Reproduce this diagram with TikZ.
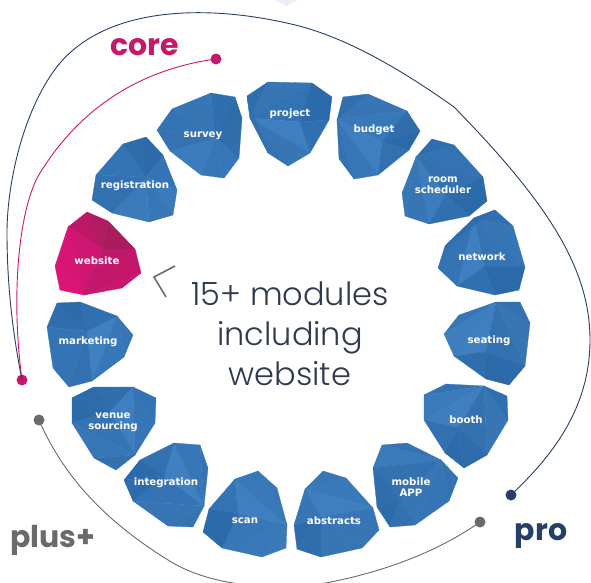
\documentclass[tikz,border=0pt]{standalone}
\usepackage{fontspec}
\setmainfont{Poppins}
\newfontfamily\labelfont{DejaVu Sans}
\newfontfamily\lightfont{Poppins Light}
\usetikzlibrary{calc}
\definecolor{gemdark}{HTML}{2A68A8}
\definecolor{gemlight}{HTML}{4383C3}
\definecolor{pinkdark}{HTML}{A81C5C}
\definecolor{pinklight}{HTML}{E5127E}
\definecolor{corecol}{HTML}{C9186C}
\definecolor{procol}{HTML}{263F66}
\definecolor{pluscol}{HTML}{6A6A6A}
\definecolor{textcol}{HTML}{2E3A4E}
\tikzset{%
  gemlabel/.style = {text=white, font=\labelfont\bfseries\fontsize{10.2}{11.5}\selectfont, align=center, inner sep=0pt, yshift=-1.2pt},%
  tier/.style     = {font=\fontsize{30}{32}\selectfont\bfseries, inner sep=0pt, yshift=-1.5pt},%
  headline/.style = {text=textcol, font=\lightfont\fontsize{32}{40}\selectfont, align=center, inner sep=0pt},%
  dot/.style      = {circle, inner sep=0pt, minimum size=11pt},%
  loopline/.style = {line width=0.9pt}%
}
% one fan of facets round a hub: hub, start point, then x/y/shade
\def\gemsplit#1,#2\relax{\def\gemstartx{#1}\def\gemstarty{#2}}
\newcommand{\gemfan}[4][gem]{%
  \gemsplit#3\relax
  \foreach \x/\y/\s [remember=\x as \xo (initially \gemstartx), remember=\y as \yo (initially \gemstarty)] in {#4}
    \path[fill=#1light!\s!#1dark, draw=#1light!\s!#1dark, line width=0.3pt, line join=round]
      (#2) -- (\xo,\yo) -- (\x,\y) -- cycle;%
}
\begin{document}
\begin{tikzpicture}[x=1pt,y=-1pt]
  \useasboundingbox (0,0) rectangle (591,582);
  \clip (0,0) rectangle (591,582);
  \fill[gemlight!12] (275,0) -- (298,0) -- (287,6) -- cycle;
  % survey
  \gemfan{215,138}{157,130}{172/109/45,211/93/50,235/97/25,242/118/12,239/158/22,224/178/55,201/175/55,170/151/75,157/130/38}
  % registration
  \gemfan{146,177}{92,200}{96/175/35,123/144/45,146/137/15,163/155/8,177/190/45,173/215/70,149/222/55,112/213/72,92/200/30}
  % project
  \gemfan{250,118}{247,96}{268/82/25,312/83/50,300/122/40,310/153/85,288/166/50,268/153/40}
  \gemfan{300,122}{312,83}{332/97/10,329/120/5,310/153/28}
  \gemfan{250,118}{268,153}{247/96/30}
  % budget
  \gemfan{337,120}{343,97}{368/94/25,407/111/50,382/142/60,378/175/85,354/179/55,339/159/40}
  \gemfan{382,142}{407,111}{420/131/18,409/150/3,378/175/30}
  % room scheduler
  \gemfan{416,157}{432,139}{454/145/20,483/177/40,446/195/35,429/224/75,405/216/50,402/193/55}
  \gemfan{446,195}{483,177}{487/201/10,469/216/2,429/224/28}
  % network
  \gemfan{474,218}{495,210}{513/226/28,525/267/50,484/267/45,457/286/85,438/268/45,445/246/35,495/210/15}
  \gemfan{484,267}{525,267}{519/290/10,495/295/2,457/286/28}
  % seating
  \gemfan{496,302}{459,315}{444/334/50,454/356/80,486/352/85,525/366/35,530/323/50,520/302/35}
  \gemfan{486,352}{454,356}{486/379/20,509/385/5,525/366/10}
  % booth
  \gemfan{484,386}{446,384}{424/395/40,424/420/70,458/428/85,487/455/35,508/420/50,507/396/25}
  \gemfan{458,428}{424,420}{445/453/30,464/468/10,487/455/12}
  % mobile APP
  \gemfan{441,460}{407,443}{382/445/45,373/468/72,400/500/35,415/525/50,449/501/48,458/478/38}
  \gemfan{400,500}{373,468}{377/507/20,390/527/8,415/525/30}
  % abstracts
  \gemfan{305,489}{323,471}{346/478/55,373/508/62,321/517/85}
  \gemfan{321,517}{373,508}{379/530/50,362/548/50,321/557/50,297/549/20,294/525/15,305/489/50}
  % scan
  \gemfan{287,525}{222,548}{238/513/55,235/479/85,258/471/60,277/488/55}
  \gemfan{287,525}{286,548}{262/557/65,222/548/60}
  \gemfan{238,513}{209,509}{235/479/45}
  \gemfan{238,513}{203,532}{209/509/10}
  \gemfan{238,513}{222,548}{203/532/10}
  % integration
  \gemfan{204,506}{133,501}{164/476/45,174/443/88,200/445/55,208/468/45}
  \gemfan{204,506}{193,527}{168/526/45,133/501/50}
  \gemfan{164,476}{124,480}{140/460/10,174/443/30}
  \gemfan{164,476}{133,501}{124/480/12}
  % venue sourcing
  \gemfan{133,387}{94,387}{72/398/20,110/412/18,135/455/85,155/423/50,156/398/40}
  \gemfan{110,412}{72,398}{94/387/12}
  \gemfan{110,412}{72,423}{72/398/8}
  \gemfan{135,455}{110,412}{72/423/45,94/458/55,116/470/30}
  % marketing
  \gemfan{117,316}{87,331}{92/381/88,124/357/55,133/335/50}
  \gemfan{87,331}{47,327}{57/303/18,80/302/8,117/316/28}
  \gemfan{87,331}{92,381}{69/387/30,53/368/45,47/327/45}
  % website
  \gemfan[pink]{102,249}{68,227}{87/212/35,108/221/15,135/249/5}
  \gemfan[pink]{84,295}{60,290}{55/266/85,68/227/75,102/249/65,135/249/40,141/273/45,122/288/55}
  \node[gemlabel] (survey) at (203,135) {survey};
  \node[gemlabel] (registration) at (135,185) {registration};
  \node[gemlabel] (project) at (290,113) {project};
  \node[gemlabel] (budget) at (374,129) {budget};
  \node[gemlabel] (room) at (443,184) {room\\[-1pt]scheduler};
  \node[gemlabel] (network) at (482,255) {network};
  \node[gemlabel] (seating) at (489,340) {seating};
  \node[gemlabel] (booth) at (466,418) {booth};
  \node[gemlabel] (mobile) at (411,486) {mobile\\[-1pt]APP};
  \node[gemlabel] (abstracts) at (334,519) {abstracts};
  \node[gemlabel] (scan) at (245,520) {scan};
  \node[gemlabel] (integration) at (166,482) {integration};
  \node[gemlabel] (venue) at (113,421) {venue\\[-1pt]sourcing};
  \node[gemlabel] (marketing) at (88,341) {marketing};
  \node[gemlabel] (website) at (97,259) {website};
  \node[headline] (modules) at (290,334) {15+ modules\\including\\website};
  \draw[pluscol, line width=1.6pt] (175,266) -- (154,277) -- (166,297);
  % tiers
  \node[tier, text=corecol] (core) at (145,46) {core};
  \node[tier, text=procol] (pro) at (541,534) {pro};
  \node[tier, text=pluscol] (plus) at (53,539) {plus+};
  \node[dot, fill=corecol] (coretop) at (216,59) {};
  \node[dot, fill=corecol] (coreend) at (22,380) {};
  \node[dot, fill=procol] (prodot) at (511,495) {};
  \node[dot, fill=pluscol] (plusa) at (39,420) {};
  \node[dot, fill=pluscol] (plusb) at (480,522) {};
  \draw[loopline, corecol] (coretop.center) .. controls (150,68) and (85,100) .. (40,173)
    .. controls (20,205) and (10,290) .. (coreend.center);
  \draw[loopline, procol] (prodot.center) .. controls (550,458) and (590,410) .. (590,340)
    .. controls (590,270) and (550,205) .. (454,107)
    .. controls (395,65) and (340,35) .. (291,24)
    .. controls (210,5) and (110,5) .. (60,63)
    .. controls (25,105) and (7,180) .. (7,233)
    .. controls (7,290) and (14,340) .. (coreend.center);
  \draw[loopline, pluscol] (plusa.center) .. controls (65,480) and (110,525) .. (173,563)
    .. controls (220,590) and (290,590) .. (331,582)
    .. controls (390,570) and (440,550) .. (plusb.center);
\end{tikzpicture}
\end{document}
